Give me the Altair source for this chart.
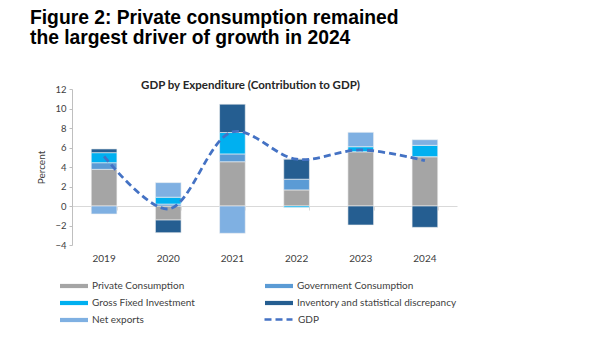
import altair as alt
import pandas as pd

years = ["2019", "2020", "2021", "2022", "2023", "2024"]
series_names = ["Private Consumption", "Government Consumption", "Gross Fixed Investment",
                "Inventory and statistical discrepancy", "Net exports"]
private = [3.76, -1.44, 4.54, 1.65, 5.57, 5.06]
government = [0.68, 0.20, 0.80, 1.10, 0.00, 0.00]
gfi = [1.03, 0.70, 2.20, -0.15, 0.51, 1.16]
inventory = [0.38, -1.30, 2.90, 2.08, -1.95, -2.19]
net_exports = [-0.82, 1.50, -2.80, 0.00, 1.48, 0.58]
gdp = [5.10, -0.30, 7.60, 4.80, 5.75, 4.65]

bar_colors = ["#A5A5A5", "#5B9BD5", "#00B0F0", "#255E91", "#7FB0E2"]
gdp_color = "#4472C4"

rows = []
for i, name in enumerate(series_names):
    vals = [private, government, gfi, inventory, net_exports][i]
    for y, v in zip(years, vals):
        rows.append({"year": y, "series": name, "value": v, "order": i})
bars_df = pd.DataFrame(rows)
line_df = pd.DataFrame({"year": years, "value": gdp, "series": ["GDP"] * len(years)})

FONT = "Lato"

xscale = alt.Scale(paddingInner=0.6, paddingOuter=0.3)
yscale = alt.Scale(domain=[-4, 12], nice=False)

bar_legend = alt.Legend(
    title=None, orient="none", legendX=-5, legendY=190, columns=2, direction="horizontal",
    symbolType="M-2,-0.3H2V0.3H-2Z", symbolSize=196, symbolStrokeWidth=0,
    labelFont=FONT, labelFontSize=10, labelColor="#404040",
    columnPadding=70, rowPadding=5, labelOffset=11,
)
line_legend = alt.Legend(
    title=None, orient="none", legendX=191, legendY=215,
    symbolType="stroke", symbolSize=784, symbolStrokeWidth=2.5,
    symbolStrokeColor=gdp_color,
    labelFont=FONT, labelFontSize=10, labelColor="#404040", labelOffset=4,
)

yaxis = alt.Axis(values=list(range(-4, 13, 2)), grid=False, tickSize=3, labelOverlap=False,
                 domainColor="#BFBFBF", tickColor="#BFBFBF",
                 labelFont=FONT, labelFontSize=9.5, labelColor="#404040",
                 titleFont=FONT, titleFontSize=10, titleFontWeight="normal",
                 titleColor="#404040", titlePadding=8, labelPadding=3)

bars = alt.Chart(bars_df).mark_bar(stroke="#F2F2F2", strokeWidth=0.6).encode(
    x=alt.X("year:N", scale=xscale, title=None, sort=years,
            axis=alt.Axis(orient="bottom", domain=False, ticks=False, labelAngle=0,
                          labelFont=FONT, labelFontSize=10, labelColor="#404040",
                          labelPadding=8)),
    y=alt.Y("value:Q", scale=yscale, stack="zero", title="Percent", axis=yaxis),
    color=alt.Color("series:N", scale=alt.Scale(domain=series_names, range=bar_colors),
                    legend=bar_legend),
    order=alt.Order("order:Q"),
)

line = alt.Chart(line_df).mark_line(
    interpolate="catmull-rom", strokeWidth=2.8, color=gdp_color
).encode(
    x=alt.X("year:N", scale=xscale, sort=years, title=None,
            axis=alt.Axis(orient="bottom", offset=-39, labels=False, domain=True,
                          ticks=True, tickBand="extent", tickSize=4,
                          domainColor="#D9D9D9", tickColor="#D9D9D9")),
    y=alt.Y("value:Q", scale=yscale, title="Percent", axis=yaxis),
    strokeDash=alt.StrokeDash("series:N", scale=alt.Scale(domain=["GDP"], range=[[7, 4]]),
                              legend=line_legend),
)

inner = alt.layer(bars, line).resolve_axis(x="independent").properties(
    width=385, height=156,
    title=alt.TitleParams("GDP by Expenditure (Contribution to GDP)", anchor="middle",
                          font=FONT, fontSize=11.5, fontWeight="bold", color="#262626",
                          dx=-14, offset=-7),
)

chart = alt.vconcat(inner).properties(
    title=alt.TitleParams(["Figure 2: Private consumption remained",
                           "the largest driver of growth in 2024"],
                          anchor="start", font="Liberation Sans", fontSize=19.3,
                          fontWeight="bold", color="#000000", lineHeight=20,
                          offset=31, dx=-7),
    padding={"left": 21, "top": 1, "right": 5, "bottom": 5},
).configure_view(stroke=None)

chart.save("out.html", embed_options={"renderer": "svg", "actions": False})
